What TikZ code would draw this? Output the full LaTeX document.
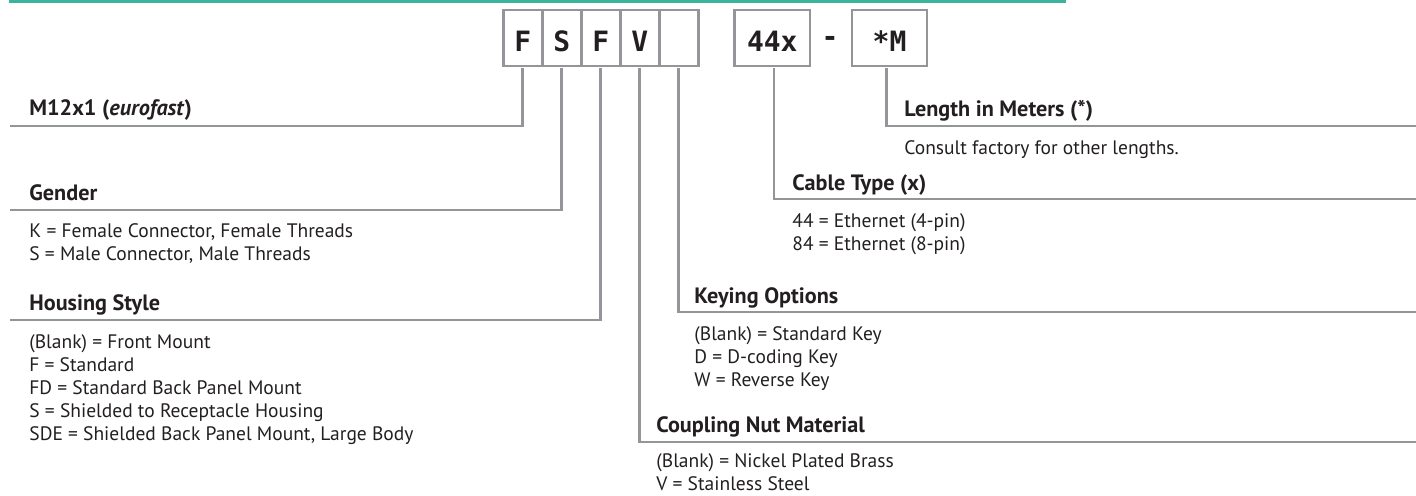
\documentclass[tikz,border=0pt]{standalone}
\usepackage{fontspec}
\setmainfont{PT Sans}
\newfontfamily\codefont{DejaVu Sans Mono}
\usetikzlibrary{positioning}
\definecolor{linec}{HTML}{939598}
\definecolor{tealc}{HTML}{3BB49C}
\definecolor{txtc}{HTML}{231F20}
\newcommand\tightlead{\setlength{\lineskiplimit}{-6pt}\setlength{\lineskip}{0pt}}
\tikzset{
  lead/.style={linec,line width=1.4pt,shorten <=1pt},
  cbox/.style={draw=linec,line width=1.4pt,outer sep=0pt,inner sep=0pt,minimum width=19.5pt,minimum height=28pt,text height=13pt,text depth=0pt,text=txtc,font=\codefont\bfseries\fontsize{14}{14}\selectfont},
  ttl/.style={anchor=base west,inner sep=0pt,text=txtc,font=\bfseries\fontsize{11.1}{12}\selectfont},
  desc/.style={anchor=base west,inner sep=0pt,align=left,text=txtc,font=\fontsize{9.75}{11.4}\selectfont\tightlead}
}

\begin{document}
\begin{tikzpicture}[x=0.5pt,y=-0.5pt]
\useasboundingbox (0,0) rectangle (1416,495);
\fill[tealc] (9,0) rectangle (1066,2.5);
\node[cbox] (bF) at (522.75,38) {F};
\node[cbox,right=0pt of bF] (bS) {S};
\node[cbox,right=0pt of bS] (bH) {F};
\node[cbox,right=0pt of bH] (bV) {V};
\node[cbox,right=0pt of bV] (bK) {};
\node[cbox,minimum width=37.7pt] (bT) at (772.3,38) {44x};
\node[inner sep=0pt,text=txtc,font=\codefont\bfseries\fontsize{14}{14}\selectfont] (dash) at (830,41) {-};
\node[cbox,minimum width=37.5pt] (bL) at (889.5,38) {*M};
\coordinate (eM) at (10,126);
\coordinate (eG) at (10,210);
\coordinate (eH) at (10,320);
\coordinate (eC) at (1416,442);
\coordinate (eK) at (1416,312);
\coordinate (eT) at (1416,199);
\coordinate (eL) at (1416,126);
\draw[lead] (bF.south) |- (eM);
\draw[lead] (bS.south) |- (eG);
\draw[lead] (bH.south) |- (eH);
\draw[lead] (bV.south) |- (eC);
\draw[lead] (bK.south) |- (eK);
\draw[lead] ([xshift=0.8pt]bT.south) |- (eT);
\draw[lead] ([xshift=-1.4pt]bL.south) |- (eL);
\node[ttl] (tM) at (29,115) {M12x1 (\textit{eurofast})};
\node[ttl] (tG) at (29,200) {Gender};
\node[desc] (dG) at (29,260) {K = Female Connector, Female Threads\\S = Male Connector, Male Threads};
\node[ttl] (tH) at (29,310) {Housing Style};
\node[desc] (dH) at (29,440) {(Blank) = Front Mount\\F = Standard\\FD = Standard Back Panel Mount\\S = Shielded to Receptacle Housing\\SDE = Shielded Back Panel Mount, Large Body};
\node[ttl] (tL) at (904,116) {Length in Meters (*)};
\node[desc] (dL) at (904,154) {Consult factory for other lengths.};
\node[ttl] (tT) at (792,190) {Cable Type (x)};
\node[desc] (dT) at (792,250.5) {44 = Ethernet (4-pin)\\84 = Ethernet (8-pin)};
\node[ttl] (tK) at (694,303) {Keying Options};
\node[desc] (dK) at (694,386) {(Blank) = Standard Key\\D = D-coding Key\\W = Reverse Key};
\node[ttl] (tC) at (656,432) {Coupling Nut Material};
\node[desc] (dC) at (656,490) {(Blank) = Nickel Plated Brass\\V = Stainless Steel};
\end{tikzpicture}
\end{document}
